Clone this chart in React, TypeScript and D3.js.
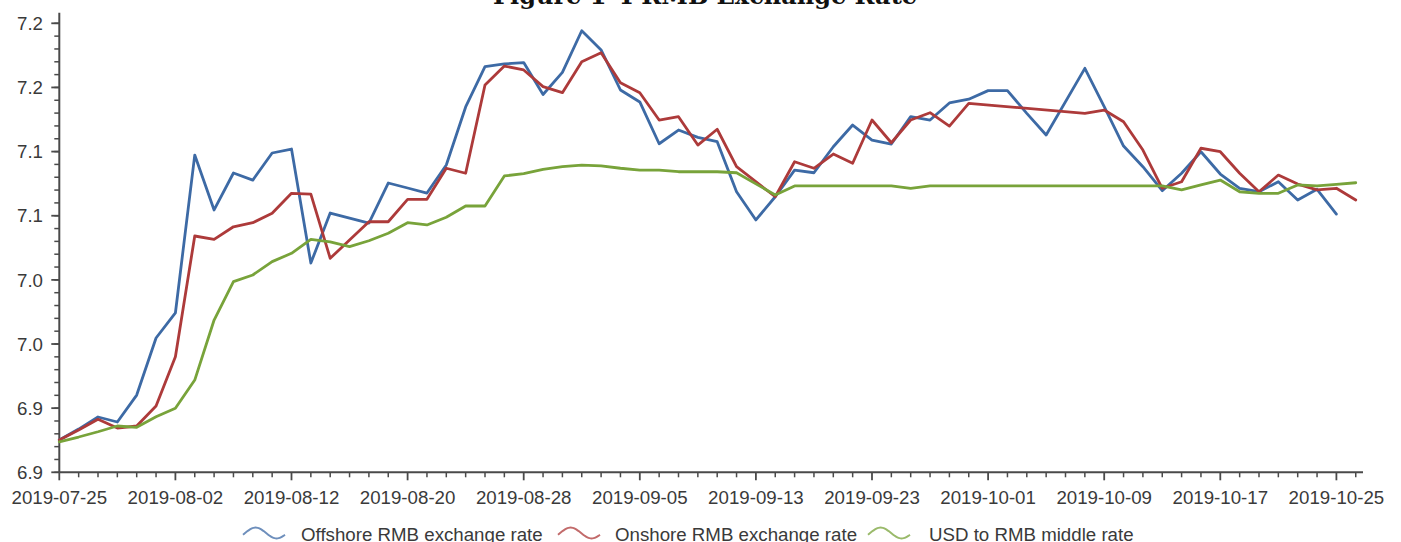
import React from "react";
import * as d3 from "d3";

const dates = ["2019-07-25","2019-07-26","2019-07-29","2019-07-30","2019-07-31","2019-08-01","2019-08-02","2019-08-05","2019-08-06","2019-08-07","2019-08-08","2019-08-09","2019-08-12","2019-08-13","2019-08-14","2019-08-15","2019-08-16","2019-08-19","2019-08-20","2019-08-21","2019-08-22","2019-08-23","2019-08-26","2019-08-27","2019-08-28","2019-08-29","2019-08-30","2019-09-02","2019-09-03","2019-09-04","2019-09-05","2019-09-06","2019-09-09","2019-09-10","2019-09-11","2019-09-12","2019-09-13","2019-09-16","2019-09-17","2019-09-18","2019-09-19","2019-09-20","2019-09-23","2019-09-24","2019-09-25","2019-09-26","2019-09-27","2019-09-30","2019-10-01","2019-10-02","2019-10-03","2019-10-04","2019-10-07","2019-10-08","2019-10-09","2019-10-10","2019-10-11","2019-10-14","2019-10-15","2019-10-16","2019-10-17","2019-10-18","2019-10-21","2019-10-22","2019-10-23","2019-10-24","2019-10-25","2019-10-28"];

const offshore: (number | null)[] = [
  6.8752, 6.8837, 6.8931, 6.8892, 6.9102, 6.9547, 6.9742, 7.0973, 7.0545, 7.0833, 7.0778, 7.0989, 7.1020,
  7.0131, 7.0521, 7.0482, 7.0443, 7.0755, 7.0716, 7.0677, 7.0895, 7.1348, 7.1663, 7.1683, 7.1694,
  7.1445, 7.1617, 7.1942, 7.1792, 7.1480, 7.1387, 7.1061, 7.1168, 7.1111, 7.1077, 7.0687, 7.0467,
  7.0648, 7.0856, 7.0835, 7.1038, 7.1207, 7.1090, 7.1059, 7.1273, 7.1246, 7.1379, 7.1408, 7.1475,
  7.1475, 7.1298, 7.1129, null, 7.1649, 7.1350, 7.1043, 7.0882, 7.0695, 7.0831, 7.0999, 7.0825,
  7.0714, 7.0687, 7.0765, 7.0623, 7.0706, 7.0513, null,
];

const onshore: (number | null)[] = [
  6.8752, 6.8830, 6.8913, 6.8845, 6.8861, 6.9017, 6.9401, 7.0342, 7.0316, 7.0414, 7.0446, 7.0519, 7.0675,
  7.0669, 7.0168, 7.0311, 7.0453, 7.0453, 7.0628, 7.0628, 7.0870, 7.0831, 7.1519, 7.1667, 7.1636,
  7.1506, 7.1459, 7.1701, 7.1771, 7.1537, 7.1459, 7.1246, 7.1272, 7.1051, 7.1174, 7.0882, null,
  7.0648, 7.0921, 7.0870, 7.0981, 7.0909, 7.1246, 7.1069, 7.1246, 7.1303, 7.1199, 7.1376, null,
  null, null, null, null, 7.1298, 7.1324, 7.1233, 7.1012, 7.0714, 7.0765, 7.1026, 7.0999,
  7.0831, 7.0687, 7.0817, 7.0747, 7.0701, 7.0714, 7.0623,
];

const middle: (number | null)[] = [
  6.8738, 6.8775, 6.8816, 6.8861, 6.8851, 6.8933, 6.8999, 6.9219, 6.9687, 6.9986, 7.0038, 7.0142, 7.0207,
  7.0316, 7.0297, 7.0259, 7.0305, 7.0363, 7.0446, 7.0428, 7.0488, 7.0576, 7.0576, 7.0810, 7.0828,
  7.0862, 7.0882, 7.0895, 7.0888, 7.0870, 7.0856, 7.0856, 7.0843, 7.0843, 7.0843, 7.0835, null,
  7.0662, 7.0732, 7.0732, 7.0732, 7.0732, 7.0732, 7.0732, 7.0714, 7.0732, 7.0732, 7.0732, null,
  null, null, null, null, 7.0732, 7.0732, 7.0732, 7.0732, 7.0732, 7.0701, 7.0740, 7.0778,
  7.0687, 7.0675, 7.0675, 7.0740, 7.0732, 7.0745, 7.0757,
];

const seriesNames = ["Offshore RMB exchange rate", "Onshore RMB exchange rate", "USD to RMB middle rate"];
const seriesColors = ["#3d6aa5", "#ad3a3a", "#78a33a"];
const yTickValues = [7.20, 7.15, 7.10, 7.05, 7.00, 6.95, 6.90, 6.85];
const yTickLabels = ["7.2", "7.2", "7.1", "7.1", "7.0", "7.0", "6.9", "6.9"];
const labelEvery = 6;
const title = "Figure 1-4 RMB Exchange Rate";

const W = 1401;
const H = 542;
const FONT = "'Liberation Sans', Arial, sans-serif";
const TEXT = "#3a3a3a";
const AXIS = "#4a4a4a";

export default function App() {
  const x = d3.scaleLinear().domain([0, dates.length - 1]).range([59.3, 59.3 + 19.35 * (dates.length - 1)]);
  const y = d3.scaleLinear().domain([6.85, 7.20]).range([472.3, 23.3]);
  const axisY = y(6.85);
  const axisX = x(0);
  const minorY = d3.range(0, 36).map((i) => 6.85 + i * 0.01);

  const line = d3
    .line<[number, number]>()
    .x((d) => x(d[0]))
    .y((d) => y(d[1]));

  const all = [offshore, onshore, middle];
  const paths = all.map((s) =>
    line(s.map((v, i) => [i, v] as [number, number | null]).filter((d) => d[1] !== null) as [number, number][])
  );

  const legendX = [243, 558, 868];
  const legendTextX = [301, 615, 929];
  const waveY = 533;
  const wave = (x0: number) =>
    d3
      .line<number>()
      .x((u) => x0 + u * 42)
      .y((u) => waveY - 5.5 * Math.sin(2 * Math.PI * (u * 1.0 - 0.05)))
      .curve(d3.curveBasis)(d3.range(0, 1.0001, 0.05));

  return (
    <svg width={W} height={H} style={{ position: "absolute", left: 0, top: 0, background: "#fff" }}>
      <rect width={W} height={H} fill="#fff" />
      <text x={705} y={4} textAnchor="middle" fontFamily="'DejaVu Serif', serif" fontWeight="bold" fontSize={24} fill="#111">
        {title}
      </text>

      {/* Y axis */}
      <line x1={axisX} x2={axisX} y1={12.7} y2={axisY} stroke={AXIS} strokeWidth={2} />
      {minorY.map((v, i) => (
        <line key={"my" + i} x1={axisX - 5} x2={axisX} y1={y(v)} y2={y(v)} stroke={AXIS} strokeWidth={1.5} />
      ))}
      {yTickValues.map((v, i) => (
        <g key={"yt" + i}>
          <line x1={axisX - 8} x2={axisX} y1={y(v)} y2={y(v)} stroke={AXIS} strokeWidth={1.8} />
          <text x={43} y={y(v)} dy="0.36em" textAnchor="end" fontFamily={FONT} fontSize={18.7} fill={TEXT}>
            {yTickLabels[i]}
          </text>
        </g>
      ))}

      {/* X axis */}
      <line x1={axisX} x2={1363} y1={axisY} y2={axisY} stroke={AXIS} strokeWidth={2} />
      {dates.map((d, i) => {
        const major = i % labelEvery === 0;
        return (
          <g key={"xt" + i}>
            <line x1={x(i)} x2={x(i)} y1={axisY} y2={axisY + (major ? 8 : 5)} stroke={AXIS} strokeWidth={major ? 1.8 : 1.5} />
            {major && (
              <text x={x(i)} y={504.3} textAnchor="middle" fontFamily={FONT} fontSize={18.7} fill={TEXT}>
                {d}
              </text>
            )}
          </g>
        );
      })}

      {/* Series */}
      {paths.map((p, i) => (
        <path key={"s" + i} d={p || ""} fill="none" stroke={seriesColors[i]} strokeWidth={2.8} strokeLinejoin="round" strokeLinecap="round" />
      ))}

      {/* Legend */}
      {seriesNames.map((n, i) => (
        <g key={"lg" + i}>
          <path d={wave(legendX[i]) || ""} fill="none" stroke={seriesColors[i]} strokeWidth={2} opacity={0.75} />
          <text x={legendTextX[i]} y={540.5} fontFamily={FONT} fontSize={18.7} fill={TEXT}>
            {n}
          </text>
        </g>
      ))}
    </svg>
  );
}
